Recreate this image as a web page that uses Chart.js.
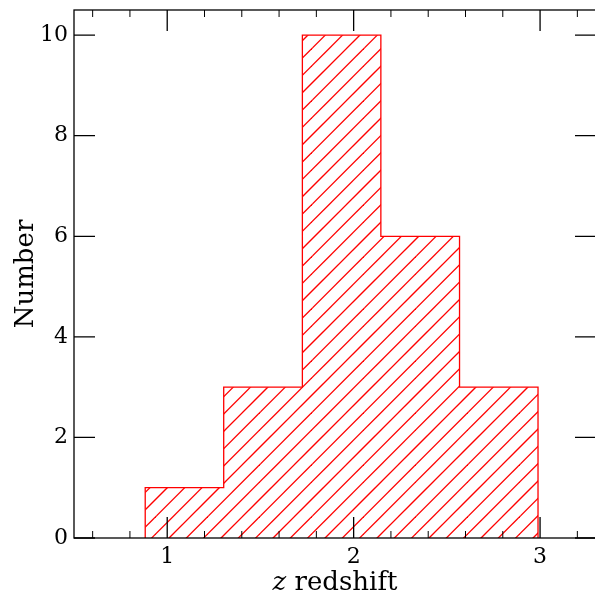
<!DOCTYPE html>
<html>
<head>
<meta charset="utf-8">
<script src="https://cdn.jsdelivr.net/npm/chart.js@4.4.0/dist/chart.umd.min.js"></script>
<style>
  html, body { margin: 0; padding: 0; background: #fff; overflow: hidden; }
  #wrap { position: absolute; left: 0; top: 0; width: 600px; height: 593px; }
</style>
</head>
<body>
<div id="wrap"><canvas id="hist" width="600" height="593"></canvas></div>
<script>
// redshift bin edges and number of objects per bin
const binEdges = [0.882, 1.303, 1.725, 2.146, 2.568, 2.989];
const counts = [1, 3, 10, 6, 3];
const xTicks = [1, 2, 3];
const yTicks = [0, 2, 4, 6, 8, 10];
const xMinorStep = 0.2;

const FONT = "'DejaVu Serif', 'Liberation Serif', serif";
const TICK_SIZE = 22;
const LABEL_SIZE = 26;

// step outline: up from the baseline, across each bin, back down at the last edge
const stepPoints = [{ x: binEdges[0], y: 0 }];
counts.forEach((c, i) => stepPoints.push({ x: binEdges[i + 1], y: c }));
stepPoints.push({ x: binEdges[binEdges.length - 1], y: 0 });

// "/" hatch, tiled from the canvas origin so it runs on across bins
function hatchPattern(ctx) {
  const size = 52, gap = size / 3, offset = 13.7;
  const tile = document.createElement('canvas');
  tile.width = size;
  tile.height = size;
  const t = tile.getContext('2d');
  t.strokeStyle = '#ff0000';
  t.lineWidth = 1.3;
  for (let c = offset - gap * 3; c < size * 2 + gap; c += gap) {
    t.beginPath();
    t.moveTo(c + 3, -3);
    t.lineTo(-3, c + 3);
    t.stroke();
  }
  return ctx.createPattern(tile, 'repeat');
}

// inward ticks on all four sides plus the box
const frame = {
  id: 'frame',
  afterDatasetsDraw(chart) {
    const { ctx, chartArea: a, scales: { x, y } } = chart;
    ctx.save();
    ctx.strokeStyle = '#000';
    ctx.lineCap = 'butt';

    ctx.lineWidth = 1;
    for (let k = 1; k * xMinorStep < x.max; k++) {
      const v = k * xMinorStep;
      if (v < x.min || k % 5 === 0) continue;
      const px = x.getPixelForValue(v);
      ctx.beginPath();
      ctx.moveTo(px, a.bottom); ctx.lineTo(px, a.bottom - 7);
      ctx.moveTo(px, a.top); ctx.lineTo(px, a.top + 7);
      ctx.stroke();
    }

    ctx.lineWidth = 1.3;
    xTicks.forEach(v => {
      const px = x.getPixelForValue(v);
      ctx.beginPath();
      ctx.moveTo(px, a.bottom); ctx.lineTo(px, a.bottom - 21);
      ctx.moveTo(px, a.top); ctx.lineTo(px, a.top + 21);
      ctx.stroke();
    });
    yTicks.forEach(v => {
      const py = y.getPixelForValue(v);
      ctx.beginPath();
      ctx.moveTo(a.left, py); ctx.lineTo(a.left + 21, py);
      ctx.moveTo(a.right, py); ctx.lineTo(a.right - 21, py);
      ctx.stroke();
    });

    ctx.strokeRect(a.left, a.top, a.right - a.left, a.bottom - a.top);
    ctx.restore();
  },
  afterDraw(chart) {
    const { ctx, chartArea: a } = chart;
    ctx.save();
    ctx.fillStyle = '#000';
    ctx.textBaseline = 'alphabetic';

    // x title: italic z, upright rest
    const it = 'italic ' + LABEL_SIZE + 'px ' + FONT;
    const up = LABEL_SIZE + 'px ' + FONT;
    ctx.font = it;
    const wz = ctx.measureText('z').width;
    ctx.font = up;
    const wr = ctx.measureText(' redshift').width;
    let sx = (a.left + a.right) / 2 - (wz + wr) / 2;
    ctx.textAlign = 'left';
    ctx.font = it;
    ctx.fillText('z', sx, 590);
    ctx.font = up;
    ctx.fillText(' redshift', sx + wz, 590);

    // y title
    ctx.translate(33, (a.top + a.bottom) / 2);
    ctx.rotate(-Math.PI / 2);
    ctx.textAlign = 'center';
    ctx.fillText('Number', 0, 0);
    ctx.restore();
  }
};

const ctx = document.getElementById('hist');

new Chart(ctx, {
  type: 'line',
  data: {
    datasets: [{
      data: stepPoints,
      stepped: 'after',
      borderColor: '#ff0000',
      borderWidth: 1.3,
      backgroundColor: hatchPattern(ctx.getContext('2d')),
      fill: 'origin',
      pointRadius: 0,
      tension: 0
    }]
  },
  options: {
    responsive: false,
    animation: false,
    layout: { padding: { top: 10, right: 4, left: 0, bottom: 0 } },
    plugins: { legend: { display: false }, tooltip: { enabled: false } },
    scales: {
      x: {
        type: 'linear',
        min: 0.5,
        max: 3.3,
        grid: { display: false, drawTicks: false },
        border: { display: false },
        afterBuildTicks: s => { s.ticks = xTicks.map(v => ({ value: v })); },
        afterFit: s => { s.height = 55; s.paddingLeft = 0; s.paddingRight = 0; },
        ticks: { padding: 6, maxRotation: 0, color: '#000', font: { family: FONT, size: TICK_SIZE } }
      },
      y: {
        min: 0,
        max: 10.5,
        grid: { display: false, drawTicks: false },
        border: { display: false },
        afterBuildTicks: s => { s.ticks = yTicks.map(v => ({ value: v })); },
        afterFit: s => { s.width = 74; s.paddingTop = 0; s.paddingBottom = 0; },
        ticks: { padding: 6, color: '#000', font: { family: FONT, size: TICK_SIZE } }
      }
    }
  },
  plugins: [frame]
});
</script>
</body>
</html>
